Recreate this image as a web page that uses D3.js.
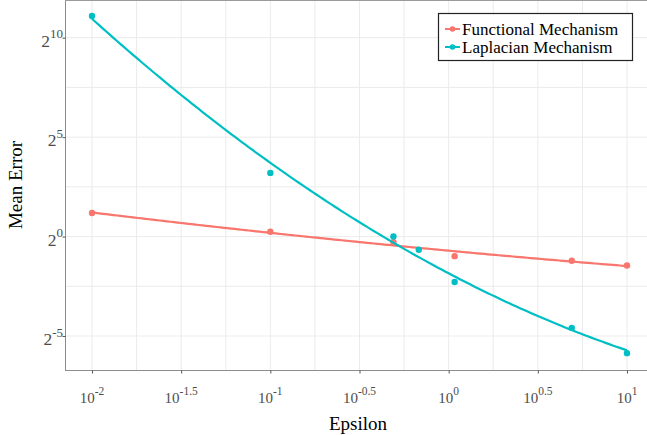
<!DOCTYPE html>
<html><head><meta charset="utf-8">
<script src="https://cdn.jsdelivr.net/npm/d3@7"></script>
<style>body{margin:0;background:#fff}svg{display:block}</style>
</head><body><svg id="c" width="647" height="435"></svg>
<script>
// ---- data ----
const seriesNames = ["Functional Mechanism", "Laplacian Mechanism"];
const colors = ["#F8766D", "#00BFC4"];
const functionalEps = [0.01, 0.1, 0.49, 1.08, 4.9, 10];
const functionalErr = [2.27, 1.18, 0.82, 0.505, 0.43, 0.364];
const laplacianEps = [0.01, 0.1, 0.49, 0.68, 1.08, 4.9, 10];
const laplacianErr = [2180, 9.2, 1.0, 0.63, 0.205, 0.0415, 0.0172];
const xTickExp = ["-2", "-1.5", "-1", "-0.5", "0", "0.5", "1"];
const yTickExp = ["10", "5", "0", "-5"];

const svg = d3.select("#c");
const pL = 65, pR = 647, pT = 0, pB = 370;
const x = d3.scaleLog().domain([0.01, 10]).range([92, 627]);
const y = d3.scaleLog().base(2).domain([Math.pow(2,-5), Math.pow(2,10)]).range([336, 37.7]);
const FONT = "Liberation Serif, Times New Roman, serif";

svg.append("rect").attr("x", pL).attr("y", pT).attr("width", pR-pL).attr("height", pB-pT).attr("fill", "#fff");
svg.append("clipPath").attr("id","clip").append("rect").attr("x", pL).attr("y", pT).attr("width", pR-pL).attr("height", pB-pT);
const g = svg.append("g").attr("clip-path","url(#clip)");

// grid lines (major every 0.5 decade, minor every 0.25 decade)
const xGrid = d3.range(-2.25, 1.26, 0.25).map(e => Math.pow(10, e));
g.selectAll(".xg").data(xGrid).join("line")
  .attr("x1", d => x(d)).attr("x2", d => x(d)).attr("y1", pT).attr("y2", pB)
  .attr("stroke", "#ebebeb").attr("stroke-width", 1);
const yGrid = d3.range(-7.5, 12.6, 2.5).map(e => Math.pow(2, e));
g.selectAll(".yg").data(yGrid).join("line")
  .attr("y1", d => y(d)).attr("y2", d => y(d)).attr("x1", pL).attr("x2", pR)
  .attr("stroke", "#ebebeb").attr("stroke-width", 1);

// quadratic least-squares fit in log-log space
function quadFit(xs, ys) {
  const n = xs.length;
  let S = [[0,0,0],[0,0,0],[0,0,0]], T = [0,0,0];
  for (let i = 0; i < n; i++) {
    const p = [1, xs[i], xs[i]*xs[i]];
    for (let a = 0; a < 3; a++) { T[a] += p[a]*ys[i]; for (let b = 0; b < 3; b++) S[a][b] += p[a]*p[b]; }
  }
  const M = S.map((r,i) => r.concat([T[i]]));
  for (let c = 0; c < 3; c++) {
    let piv = c; for (let r = c+1; r < 3; r++) if (Math.abs(M[r][c]) > Math.abs(M[piv][c])) piv = r;
    [M[c], M[piv]] = [M[piv], M[c]];
    for (let r = 0; r < 3; r++) if (r !== c) { const f = M[r][c]/M[c][c]; for (let k = c; k < 4; k++) M[r][k] -= f*M[c][k]; }
  }
  const co = M.map((r,i) => r[3]/r[i]);
  return t => co[0] + co[1]*t + co[2]*t*t;
}

const series = [
  {eps: functionalEps, err: functionalErr, color: colors[0]},
  {eps: laplacianEps, err: laplacianErr, color: colors[1]}
];
series.forEach(s => {
  const f = quadFit(s.eps.map(Math.log10), s.err.map(Math.log2));
  const lx = d3.range(-2, 1.0001, 0.02);
  const line = d3.line().x(t => x(Math.pow(10, t))).y(t => y(Math.pow(2, f(t))));
  g.append("path").datum(lx).attr("d", line).attr("fill","none").attr("stroke", s.color).attr("stroke-width", 2.2);
  g.selectAll(null).data(s.eps.map((e,i) => [e, s.err[i]])).join("circle")
    .attr("cx", d => x(d[0])).attr("cy", d => y(d[1])).attr("r", 3.2).attr("fill", s.color);
});

// axis lines
svg.append("line").attr("x1", pL+0.5).attr("x2", pL+0.5).attr("y1", pT).attr("y2", pB).attr("stroke", "#8c8c8c");
svg.append("line").attr("x1", pL).attr("x2", pR).attr("y1", pB+0.5).attr("y2", pB+0.5).attr("stroke", "#8c8c8c");
svg.append("line").attr("x1", pL).attr("x2", pR).attr("y1", 0.5).attr("y2", 0.5).attr("stroke", "#9a9a9a");

// axes with custom superscript labels
const xTicks = xTickExp.map(e => Math.pow(10, +e));
const xAxis = svg.append("g").attr("transform", `translate(0,${pB+0.5})`)
  .call(d3.axisBottom(x).tickValues(xTicks).tickFormat("").tickSize(3).tickSizeOuter(0));
xAxis.select(".domain").remove();
xAxis.selectAll(".tick line").attr("stroke", "#555");
xTicks.forEach((v, i) => {
  const t = svg.append("text").attr("x", x(v)).attr("y", 403).attr("text-anchor","middle")
    .attr("font-family", FONT).attr("font-size", 15).attr("fill","#4d4d4d");
  t.append("tspan").text("10");
  t.append("tspan").attr("dy", -8).attr("font-size", 11.5).text(xTickExp[i]);
});
const yTicks = yTickExp.map(e => Math.pow(2, +e));
const yAxis = svg.append("g").attr("transform", `translate(${pL+0.5},0)`)
  .call(d3.axisLeft(y).tickValues(yTicks).tickFormat("").tickSize(3).tickSizeOuter(0));
yAxis.select(".domain").remove();
yAxis.selectAll(".tick line").attr("stroke", "#555");
yTicks.forEach((v, i) => {
  const t = svg.append("text").attr("x", 63).attr("y", y(v) + 9).attr("text-anchor","end")
    .attr("font-family", FONT).attr("font-size", 17.5).attr("fill","#4d4d4d");
  t.append("tspan").text("2");
  t.append("tspan").attr("dy", -8.5).attr("font-size", 13).text(yTickExp[i]);
});

// axis titles
svg.append("text").attr("x", 358).attr("y", 430).attr("text-anchor","middle")
  .attr("font-family", FONT).attr("font-size", 19).attr("fill","#000").text("Epsilon");
svg.append("text").attr("transform","translate(22,185) rotate(-90)").attr("text-anchor","middle")
  .attr("font-family", FONT).attr("font-size", 19).attr("fill","#000").text("Mean Error");

// legend
const lg = svg.append("g");
lg.append("rect").attr("x", 438.5).attr("y", 13.5).attr("width", 194).attr("height", 47)
  .attr("fill","#fff").attr("stroke","#222").attr("stroke-width", 1.2);
seriesNames.forEach((name, i) => {
  const cy = 29 + i*18;
  lg.append("line").attr("x1", 445).attr("x2", 460).attr("y1", cy).attr("y2", cy).attr("stroke", colors[i]).attr("stroke-width", 2);
  lg.append("circle").attr("cx", 452.5).attr("cy", cy).attr("r", 2.8).attr("fill", colors[i]);
  lg.append("text").attr("x", 462).attr("y", cy + 6).attr("font-family", FONT)
    .attr("font-size", 17).attr("fill","#000").text(name);
});
</script></body></html>
